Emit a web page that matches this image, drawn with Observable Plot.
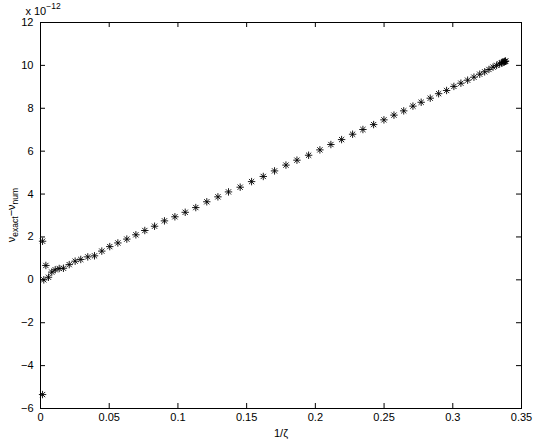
<!DOCTYPE html>
<html>
<head>
<meta charset="utf-8">
<script src="https://cdn.jsdelivr.net/npm/d3@7"></script>
<script src="https://cdn.jsdelivr.net/npm/@observablehq/plot@0.6"></script>
<style>
  html, body { margin: 0; padding: 0; background: #fff; }
  #chart svg { display: block; }
</style>
</head>
<body>
<div id="chart"></div>
<script>
// ---- data (y in units of 1e-12) ----
const invZeta = [0.0015,0.0015,0.0024,0.0039,0.0058,0.0082,0.0107,0.0136,0.0167,0.0209,
  0.0252,0.0293,0.0344,0.0393,0.0446,0.0504,0.0563,0.0628,0.0694,0.0759,
  0.0830,0.0902,0.0978,0.1053,0.1130,0.1210,0.1291,0.1368,0.1453,0.1536,
  0.1621,0.1703,0.1786,0.1866,0.1951,0.2033,0.2113,0.2191,0.2271,0.2346,
  0.2424,0.2499,0.2572,0.2643,0.2710,0.2770,0.2836,0.2897,0.2955,0.3008,
  0.3059,0.3108,0.3154,0.3196,0.3232,0.3263,0.3293,0.3319,0.3341,0.3355,
  0.3365,0.3372,0.3377,0.3381,0.3384];
const diffE12 = [-5.35,1.80,0.00,0.67,0.12,0.36,0.47,0.53,0.54,0.71,
  0.87,0.95,1.07,1.12,1.34,1.55,1.72,1.90,2.10,2.30,
  2.50,2.75,2.94,3.15,3.37,3.64,3.87,4.10,4.32,4.58,
  4.82,5.08,5.35,5.58,5.81,6.06,6.31,6.54,6.79,7.01,
  7.24,7.46,7.68,7.88,8.10,8.28,8.47,8.68,8.83,9.02,
  9.17,9.31,9.45,9.59,9.70,9.81,9.92,10.00,10.07,10.11,
  10.14,10.16,10.18,10.19,10.20];
const xTicks = [0, 0.05, 0.1, 0.15, 0.2, 0.25, 0.3, 0.35];
const xTickLabels = ["0", "0.05", "0.1", "0.15", "0.2", "0.25", "0.3", "0.35"];
const yTicks = [-6, -4, -2, 0, 2, 4, 6, 8, 10, 12];
const xLabel = "1/ζ";

const data = invZeta.map((x, i) => ({x, y: diffE12[i]}));

// MATLAB-style 8-armed asterisk
const asterisk = {
  draw(context, size) {
    const r = Math.sqrt(size / Math.PI);
    const d = r * Math.SQRT1_2;
    context.moveTo(-r, 0); context.lineTo(r, 0);
    context.moveTo(0, -r); context.lineTo(0, r);
    context.moveTo(-d, -d); context.lineTo(d, d);
    context.moveTo(-d, d); context.lineTo(d, -d);
  }
};

const W = 545, H = 440;
const mL = 40, mR = 24, mT = 22, mB = 32;
const innerW = W - mL - mR, innerH = H - mT - mB;
const tick = 5;

const plot = Plot.plot({
  width: W, height: H,
  marginLeft: mL, marginRight: mR, marginTop: mT, marginBottom: mB,
  style: {fontFamily: "'Liberation Sans', Arial, Helvetica, sans-serif", fontSize: "11px", background: "#fff", color: "#000"},
  x: {domain: [0, 0.35]},
  y: {domain: [-6, 12]},
  marks: [
    Plot.frame({stroke: "#000"}),
    Plot.tickX(xTicks, {x: d => d, insetTop: innerH - tick, stroke: "#000"}),
    Plot.tickX(xTicks, {x: d => d, insetBottom: innerH - tick, stroke: "#000"}),
    Plot.tickY(yTicks, {y: d => d, insetRight: innerW - tick, stroke: "#000"}),
    Plot.tickY(yTicks, {y: d => d, insetLeft: innerW - tick, stroke: "#000"}),
    Plot.axisX(xTicks, {anchor: "bottom", tickSize: 0, tickPadding: 5, tickFormat: (d, i) => xTickLabels[i], label: null}),
    Plot.axisY(yTicks, {anchor: "left", tickSize: 0, tickPadding: 7, label: null}),
    Plot.text([xLabel], {frameAnchor: "bottom", dy: 25, text: d => d, lineAnchor: "middle", fontSize: 11}),
    Plot.dot(data, {x: "x", y: "y", symbol: asterisk, r: 3.7, stroke: "#000", fill: "none", strokeWidth: 0.9})
  ]
});

document.getElementById("chart").appendChild(plot);

// y-axis label with subscripts and the exponent note
const svg = d3.select(plot);
const yl = svg.append("text")
  .attr("transform", `translate(15,${mT + innerH / 2}) rotate(-90)`)
  .attr("text-anchor", "middle")
  .attr("font-size", 11)
  .attr("fill", "#000");
yl.append("tspan").text("ν");
yl.append("tspan").attr("dy", 3).attr("font-size", 8.5).text("exact");
yl.append("tspan").attr("dy", -3).text("−ν");
yl.append("tspan").attr("dy", 3).attr("font-size", 8.5).text("num");

const ex = svg.append("text")
  .attr("x", mL + 3).attr("y", 15)
  .attr("font-size", 11).attr("fill", "#000");
ex.append("tspan").text("x 10");
ex.append("tspan").attr("dy", -6).attr("font-size", 8.5).text("−12");
</script>
</body>
</html>
